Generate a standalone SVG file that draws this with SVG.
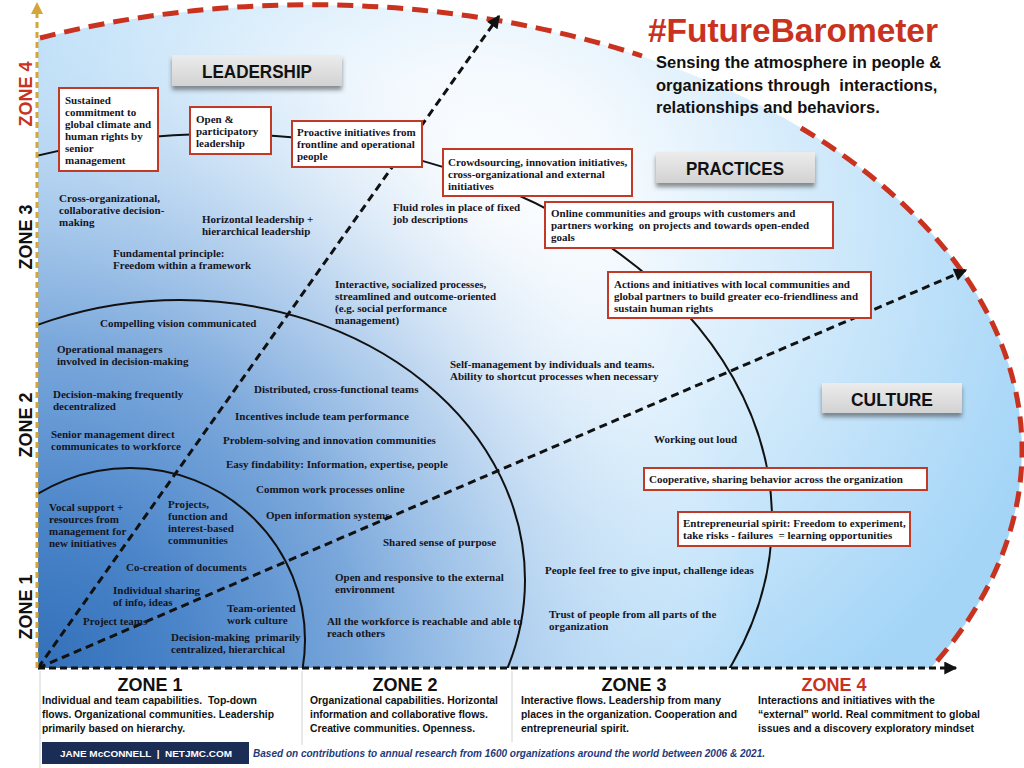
<svg xmlns="http://www.w3.org/2000/svg" width="1024" height="768" viewBox="0 0 1024 768">
<defs>
<style>
.t{font-family:"Liberation Serif","Times New Roman",serif;font-weight:bold;font-size:11px;fill:#15151f}
.box{fill:#fff;stroke:#c23a25;stroke-width:2}
.lblbox{fill:url(#gray);filter:url(#shadow)}
.lbl{font-family:"Liberation Sans",Arial,sans-serif;font-weight:bold;font-size:18px;fill:#111;text-anchor:middle}
.zone{font-family:"Liberation Sans",Arial,sans-serif;font-weight:bold;font-size:18px;fill:#111;text-anchor:middle}
.red{fill:#c8321e}
.bt{font-family:"Liberation Sans",Arial,sans-serif;font-weight:bold;font-size:11.5px;fill:#111}
.arc{fill:none;stroke:#111;stroke-width:2}
.dash{fill:none;stroke:#111;stroke-width:3;stroke-dasharray:8 5}
.sep{stroke:#d2d2d2;stroke-width:1}
</style>
<radialGradient id="base" gradientUnits="userSpaceOnUse" cx="480" cy="210" r="600">
<stop offset="0" stop-color="#ffffff"/>
<stop offset="0.25" stop-color="#f3f9fe"/>
<stop offset="1" stop-color="#a4d5f7"/>
</radialGradient>
<radialGradient id="dark" gradientUnits="userSpaceOnUse" cx="38" cy="668" r="720">
<stop offset="0" stop-color="#3270b9" stop-opacity="1"/>
<stop offset="0.2" stop-color="#4a84c9" stop-opacity="1"/>
<stop offset="0.45" stop-color="#72a1d8" stop-opacity="0.9"/>
<stop offset="0.65" stop-color="#a2c3e8" stop-opacity="0.7"/>
<stop offset="0.85" stop-color="#d0e3f5" stop-opacity="0.3"/>
<stop offset="1" stop-color="#ffffff" stop-opacity="0"/>
</radialGradient>
<linearGradient id="gray" x1="0" y1="0" x2="0" y2="1">
<stop offset="0" stop-color="#ececec"/>
<stop offset="1" stop-color="#d2d2d2"/>
</linearGradient>
<filter id="shadow" x="-10%" y="-20%" width="120%" height="160%">
<feDropShadow dx="0" dy="4" stdDeviation="2" flood-color="#444" flood-opacity="0.6"/>
</filter>
<clipPath id="area"><rect x="38" y="0" width="986" height="668"/></clipPath>
<marker id="ah" viewBox="0 0 10 10" refX="9" refY="5" markerWidth="14" markerHeight="13" markerUnits="userSpaceOnUse" orient="auto">
<path d="M0,0 L10,5 L0,10 z" fill="#111" stroke="none"/>
</marker>
</defs>

<rect width="1024" height="768" fill="#fff"/>

<g id="background" clip-path="url(#area)">
<ellipse cx="310" cy="450" rx="712" ry="445" fill="url(#base)"/>
<ellipse cx="310" cy="450" rx="712" ry="445" fill="url(#dark)"/>
</g>

<g id="zones" clip-path="url(#area)">
<ellipse class="arc" cx="130" cy="640" rx="175" ry="172"/>
<ellipse class="arc" cx="180" cy="580" rx="345" ry="280"/>
<ellipse class="arc" cx="220" cy="520" rx="552" ry="386"/>
</g>

<g id="outer-boundary" fill="none" stroke="#c8321e" stroke-width="5" stroke-dasharray="16 9">
<path d="M40,38 A712,445 0 0 1 642,56"/>
<path d="M801,128 A712,445 0 0 1 931,668"/>
</g>

<g id="connectors">
<line class="dash" x1="38" y1="668" x2="499" y2="16" marker-end="url(#ah)"/>
<line class="dash" x1="38" y1="668" x2="966" y2="270" marker-end="url(#ah)"/>
<line class="dash" x1="38" y1="668" x2="956" y2="668" marker-end="url(#ah)" style="stroke-dasharray:7 4"/>
<line x1="37" y1="668" x2="37" y2="14" stroke="#d4a537" stroke-width="3" stroke-dasharray="6 4"/>
<polygon points="37,2 31,14 43,14" fill="#d4a537"/>
</g>

<g id="axis-labels">
<text class="zone red" transform="translate(32,94) rotate(-90)">ZONE 4</text>
<text class="zone" transform="translate(32,237) rotate(-90)">ZONE 3</text>
<text class="zone" transform="translate(32,425) rotate(-90)">ZONE 2</text>
<text class="zone" transform="translate(32,607) rotate(-90)">ZONE 1</text>
</g>

<g id="title">
<text x="648" y="42" font-family="Liberation Sans, Arial, sans-serif" font-weight="bold" font-size="33" fill="#c8321e" textLength="290" lengthAdjust="spacingAndGlyphs">#FutureBarometer</text>
<g font-family="Liberation Sans, Arial, sans-serif" font-weight="bold" font-size="16.5" fill="#111">
<text x="656" y="68">Sensing the atmosphere in people &amp;</text>
<text x="656" y="91" xml:space="preserve">organizations through  interactions,</text>
<text x="656" y="113">relationships and behaviors.</text>
</g>
</g>

<g id="leadership-label"><rect class="lblbox" x="172" y="55" width="170" height="31"/><text class="lbl" x="257" y="78" textLength="110" lengthAdjust="spacingAndGlyphs">LEADERSHIP</text></g>
<g id="practices-label"><rect class="lblbox" x="656" y="152" width="159" height="31"/><text class="lbl" x="735" y="175" textLength="98" lengthAdjust="spacingAndGlyphs">PRACTICES</text></g>
<g id="culture-label"><rect class="lblbox" x="822" y="383" width="140" height="30"/><text class="lbl" x="892" y="406" textLength="82" lengthAdjust="spacingAndGlyphs">CULTURE</text></g>

<g id="box-sustained"><rect class="box" x="59" y="88" width="99" height="83"/>
<text class="t" x="65" y="104">Sustained</text><text class="t" x="65" y="116">commitment to</text><text class="t" x="65" y="128">global climate and</text><text class="t" x="65" y="140">human rights by</text><text class="t" x="65" y="152">senior</text><text class="t" x="65" y="164">management</text></g>
<g id="box-open"><rect class="box" x="190" y="107" width="81" height="47"/>
<text class="t" x="196" y="123">Open &amp;</text><text class="t" x="196" y="135">participatory</text><text class="t" x="196" y="147">leadership</text></g>
<g id="box-proactive"><rect class="box" x="292" y="121" width="130" height="46"/>
<text class="t" x="297" y="136">Proactive initiatives from</text><text class="t" x="297" y="148">frontline and operational</text><text class="t" x="297" y="160">people</text></g>
<g id="box-crowdsourcing"><rect class="box" x="443" y="149" width="189" height="47"/>
<text class="t" x="448" y="166">Crowdsourcing, innovation initiatives,</text><text class="t" x="448" y="178">cross-organizational and external</text><text class="t" x="448" y="190">initiatives</text></g>
<g id="box-online"><rect class="box" x="545" y="202" width="288" height="46"/>
<text class="t" x="551" y="217">Online communities and groups with customers and</text><text class="t" x="551" y="229" xml:space="preserve">partners working  on projects and towards open-ended</text><text class="t" x="551" y="241">goals</text></g>
<g id="box-actions"><rect class="box" x="608" y="272" width="263" height="46"/>
<text class="t" x="614" y="288">Actions and initiatives with local communities and</text><text class="t" x="614" y="300">global partners to build greater eco-friendliness and</text><text class="t" x="614" y="312">sustain human rights</text></g>
<g id="box-cooperative"><rect class="box" x="644" y="468" width="283" height="22"/>
<text class="t" x="649" y="483">Cooperative, sharing behavior across the organization</text></g>
<g id="box-entrepreneurial"><rect class="box" x="678" y="512" width="232" height="34"/>
<text class="t" x="683" y="527">Entrepreneurial spirit: Freedom to experiment,</text><text class="t" x="683" y="539" xml:space="preserve">take risks - failures  = learning opportunities</text></g>

<g id="zone3-items">
<g id="cross-org"><text class="t" x="59" y="202">Cross-organizational,</text><text class="t" x="59" y="214">collaborative decision-</text><text class="t" x="59" y="226">making</text></g>
<g id="horizontal"><text class="t" x="202" y="223">Horizontal leadership +</text><text class="t" x="202" y="235">hierarchical leadership</text></g>
<g id="fundamental"><text class="t" x="113" y="257">Fundamental principle:</text><text class="t" x="113" y="269">Freedom within a framework</text></g>
<g id="fluid"><text class="t" x="393" y="211">Fluid roles in place of fixed</text><text class="t" x="393" y="223">job descriptions</text></g>
<g id="interactive"><text class="t" x="335" y="288">Interactive, socialized processes,</text><text class="t" x="335" y="300">streamlined and outcome-oriented</text><text class="t" x="335" y="312">(e.g. social performance</text><text class="t" x="335" y="324">management)</text></g>
<g id="self-management"><text class="t" x="450" y="368">Self-management by individuals and teams.</text><text class="t" x="450" y="380">Ability to shortcut processes when necessary</text></g>
<g id="working-out-loud"><text class="t" x="654" y="443">Working out loud</text></g>
<g id="people-feel-free"><text class="t" x="545" y="574">People feel free to give input, challenge ideas</text></g>
<g id="trust"><text class="t" x="549" y="618">Trust of people from all parts of the</text><text class="t" x="549" y="630">organization</text></g>
</g>

<g id="zone2-items">
<g id="compelling"><text class="t" x="100" y="327">Compelling vision communicated</text></g>
<g id="operational"><text class="t" x="57" y="353">Operational managers</text><text class="t" x="57" y="365">involved in decision-making</text></g>
<g id="decentralized"><text class="t" x="53" y="398">Decision-making frequently</text><text class="t" x="53" y="410">decentralized</text></g>
<g id="senior"><text class="t" x="51" y="438">Senior management direct</text><text class="t" x="51" y="450">communicates to workforce</text></g>
<g id="distributed"><text class="t" x="254" y="393">Distributed, cross-functional teams</text></g>
<g id="incentives"><text class="t" x="235" y="420">Incentives include team performance</text></g>
<g id="problem-solving"><text class="t" x="223" y="444">Problem-solving and innovation communities</text></g>
<g id="findability"><text class="t" x="226" y="468">Easy findability: Information, expertise, people</text></g>
<g id="common-work"><text class="t" x="256" y="493">Common work processes online</text></g>
<g id="open-info"><text class="t" x="266" y="519">Open information systems</text></g>
<g id="shared-purpose"><text class="t" x="383" y="546">Shared sense of purpose</text></g>
<g id="open-responsive"><text class="t" x="335" y="581">Open and responsive to the external</text><text class="t" x="335" y="593">environment</text></g>
<g id="workforce"><text class="t" x="327" y="625">All the workforce is reachable and able to</text><text class="t" x="327" y="637">reach others</text></g>
</g>

<g id="zone1-items">
<g id="vocal"><text class="t" x="49" y="511">Vocal support +</text><text class="t" x="49" y="523">resources from</text><text class="t" x="49" y="535">management for</text><text class="t" x="49" y="547">new initiatives</text></g>
<g id="projects"><text class="t" x="168" y="508">Projects,</text><text class="t" x="168" y="520">function and</text><text class="t" x="168" y="532">interest-based</text><text class="t" x="168" y="544">communities</text></g>
<g id="co-creation"><text class="t" x="126" y="571">Co-creation of documents</text></g>
<g id="individual"><text class="t" x="113" y="594">Individual sharing</text><text class="t" x="113" y="606">of info, ideas</text></g>
<g id="team-oriented"><text class="t" x="227" y="612">Team-oriented</text><text class="t" x="227" y="624">work culture</text></g>
<g id="project-teams"><text class="t" x="83" y="625">Project teams</text></g>
<g id="centralized"><text class="t" x="171" y="641" xml:space="preserve">Decision-making  primarily</text><text class="t" x="171" y="653">centralized, hierarchical</text></g>
</g>

<g id="bottom-panel">
<line class="sep" x1="40" y1="671" x2="40" y2="768"/>
<line class="sep" x1="302" y1="671" x2="302" y2="745"/>
<line class="sep" x1="512" y1="671" x2="512" y2="742"/>
<g id="zone1-desc">
<text class="zone" x="150" y="691" font-size="18.5">ZONE 1</text>
<text class="bt" x="42" y="704" textLength="215" lengthAdjust="spacingAndGlyphs" xml:space="preserve">Individual and team capabilities.  Top-down</text>
<text class="bt" x="42" y="718" textLength="232" lengthAdjust="spacingAndGlyphs">flows. Organizational communities. Leadership</text>
<text class="bt" x="42" y="732" textLength="143" lengthAdjust="spacingAndGlyphs">primarily based on hierarchy.</text>
</g>
<g id="zone2-desc">
<text class="zone" x="405" y="691" font-size="18.5">ZONE 2</text>
<text class="bt" x="310" y="704" textLength="188" lengthAdjust="spacingAndGlyphs">Organizational capabilities. Horizontal</text>
<text class="bt" x="310" y="718" textLength="178" lengthAdjust="spacingAndGlyphs">information and collaborative flows.</text>
<text class="bt" x="310" y="732" textLength="165" lengthAdjust="spacingAndGlyphs">Creative communities. Openness.</text>
</g>
<g id="zone3-desc">
<text class="zone" x="634" y="691" font-size="18.5">ZONE 3</text>
<text class="bt" x="521" y="704" textLength="200" lengthAdjust="spacingAndGlyphs">Interactive flows. Leadership from many</text>
<text class="bt" x="521" y="718" textLength="216" lengthAdjust="spacingAndGlyphs">places in the organization. Cooperation and</text>
<text class="bt" x="521" y="732" textLength="108" lengthAdjust="spacingAndGlyphs">entrepreneurial spirit.</text>
</g>
<g id="zone4-desc">
<text class="zone red" x="834" y="691" font-size="18.5">ZONE 4</text>
<text class="bt red" x="758" y="704" textLength="177" lengthAdjust="spacingAndGlyphs">Interactions and initiatives with the</text>
<text class="bt red" x="758" y="718" textLength="222" lengthAdjust="spacingAndGlyphs">“external” world. Real commitment to global</text>
<text class="bt red" x="758" y="732" textLength="216" lengthAdjust="spacingAndGlyphs">issues and a discovery exploratory mindset</text>
</g>
<g id="author">
<rect x="42" y="742" width="207" height="22" fill="#1b2d55"/>
<text x="146" y="757" font-family="Liberation Sans, Arial, sans-serif" font-weight="bold" font-size="9.5" fill="#fff" text-anchor="middle" textLength="172" lengthAdjust="spacingAndGlyphs" xml:space="preserve">JANE McCONNELL  |  NETJMC.COM</text>
</g>
<g id="source">
<text x="253" y="757" font-family="Liberation Sans, Arial, sans-serif" font-weight="bold" font-style="italic" font-size="10.5" fill="#1f3a7a" textLength="512" lengthAdjust="spacingAndGlyphs">Based on contributions to annual research from 1600 organizations around the world between 2006 &amp; 2021.</text>
</g>
</g>
</svg>
